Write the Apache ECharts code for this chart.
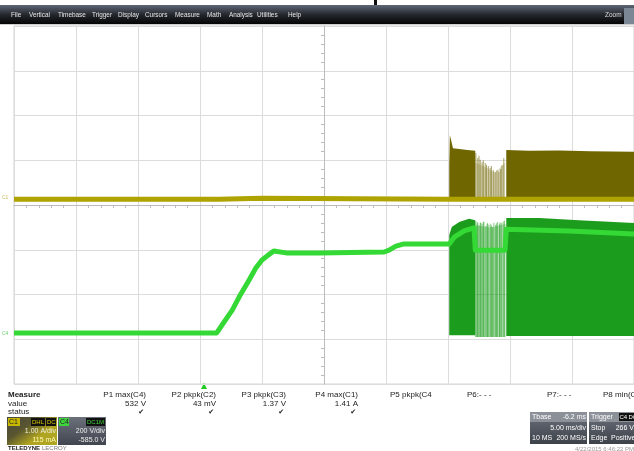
<!DOCTYPE html>
<html><head><meta charset="utf-8">
<script src="https://cdn.jsdelivr.net/npm/echarts@6/dist/echarts.min.js"></script>
<style>html,body{margin:0;padding:0;background:#fff}#scope{width:634px;height:451px}</style>
</head><body><div id="scope"></div><script>
/* Scope capture: C1 (current, olive) and C4 (voltage, green).
   Coordinates are screen divisions: x -5..5 (5 ms/div), y -4..4. */
const MENU = ["File","Vertical","Timebase","Trigger","Display","Cursors","Measure","Math","Analysis","Utilities","Help"];
const MENU_X = [11,29,58,92,118,145,175,207,229,257,288];

const MEAS_NAME = ["P1 max(C4)","P2 pkpk(C2)","P3 pkpk(C3)","P4 max(C1)","P5 pkpk(C4","P6:- - -","P7:- - -","P8 min(C4)"];
const MEAS_VALUE = ["532 V","43 mV","1.37 V","1.41 A","","","",""];
const MEAS_OK = [true,true,true,true,false,false,false,false];

// C1 trace (divisions)
const c1Base = [[-5,0.13],[-1.7,0.13],[-1.0,0.15],[0.5,0.14],[2.02,0.13],[5,0.13]];
const c1Burst1 = [[2.02,0.13,0.9],[2.03,0.13,1.56],[2.05,0.13,1.45],[2.08,0.13,1.27],[2.18,0.13,1.25],[2.31,0.13,1.23],[2.44,0.13,1.21]];
const c1Stripes = [[2.45,0.13,1.16],[2.48,0.13,1.05],[2.50,0.13,1.10],[2.52,0.13,1.01],[2.55,0.13,0.96],[2.57,0.13,1.00],[2.60,0.13,0.94],[2.62,0.13,0.90],[2.65,0.13,0.87],[2.68,0.13,0.83],[2.70,0.13,0.87],[2.73,0.13,0.78],[2.76,0.13,0.74],[2.79,0.13,0.78],[2.82,0.13,0.74],[2.85,0.13,0.80],[2.87,0.13,0.89],[2.90,0.13,1.05]];
const c1Haze = [[2.44,0.13,0.95],[2.60,0.13,0.85],[2.76,0.13,0.72],[2.92,0.13,0.95]];
const c1Burst2 = [[2.94,0.13,1.23],[3.3,0.13,1.21],[3.8,0.13,1.22],[4.3,0.13,1.20],[5,0.13,1.19]];

// C4 trace (divisions)
const c4Trace = [[-5,-2.86],[-1.73,-2.86],[-1.61,-2.61],[-1.48,-2.35],[-1.35,-2.01],[-1.21,-1.68],[-1.10,-1.41],[-1.00,-1.23],[-0.90,-1.12],[-0.81,-1.03],[-0.61,-1.07],[-0.08,-1.07],[0.97,-1.05],[1.05,-1.01],[1.16,-0.92],[1.29,-0.87],[2.02,-0.87],[2.10,-0.72],[2.26,-0.58],[2.42,-0.51],[2.44,-1.01],[2.92,-1.01],[2.94,-0.54],[3.95,-0.58],[5,-0.65]];
const c4Burst1 = [[2.02,-2.91,-0.67],[2.06,-2.91,-0.49],[2.18,-2.91,-0.38],[2.34,-2.91,-0.31],[2.44,-2.91,-0.34]];
const c4Stripes = [[2.45,-2.95,-0.36],[2.47,-2.95,-0.41],[2.48,-2.95,-0.38],[2.50,-2.95,-0.45],[2.52,-2.95,-0.39],[2.53,-2.95,-0.40],[2.55,-2.95,-0.42],[2.57,-2.95,-0.37],[2.58,-2.95,-0.38],[2.61,-2.95,-0.47],[2.63,-2.95,-0.42],[2.64,-2.95,-0.40],[2.66,-2.95,-0.44],[2.69,-2.95,-0.42],[2.70,-2.95,-0.46],[2.72,-2.95,-0.49],[2.74,-2.95,-0.40],[2.77,-2.95,-0.45],[2.78,-2.95,-0.41],[2.80,-2.95,-0.38],[2.83,-2.95,-0.43],[2.84,-2.95,-0.39],[2.86,-2.95,-0.40],[2.89,-2.95,-0.37],[2.91,-2.95,-0.35]];
const c4Haze = [[2.44,-2.95,-0.45],[2.70,-2.95,-0.50],[2.93,-2.95,-0.42]];
const c4Burst2 = [[2.94,-2.93,-0.29],[3.47,-2.93,-0.29],[4.11,-2.93,-0.34],[5,-2.93,-0.40]];

const OLIVE_LINE = "#aea300", OLIVE_FILL = "#6f6600";
const GREEN_LINE = "#35d935", GREEN_FILL = "#1c9c1c";

function band(pts, color) {
  return { type: "custom", data: [0], silent: true, z: 2,
    renderItem: (params, api) => {
      const top = pts.map((p) => api.coord([p[0], p[2]]));
      const bot = pts.slice().reverse().map((p) => api.coord([p[0], p[1]]));
      return { type: "polygon", shape: { points: top.concat(bot) }, style: { fill: color } };
    } };
}
function stripes(pts, color) {
  return { type: "custom", data: pts, silent: true, z: 2,
    renderItem: (params, api) => {
      const a = api.coord([api.value(0), api.value(1)]), b = api.coord([api.value(0), api.value(2)]);
      return { type: "line", shape: { x1: a[0], y1: a[1], x2: b[0], y2: b[1] }, style: { stroke: color, lineWidth: 1 } };
    } };
}

const F = "Liberation Sans, Arial, sans-serif";
const txt = (x, y, s, o) => Object.assign({ type: "text", x, y, silent: true,
  style: Object.assign({ text: s, fill: "#222", font: "8px " + F, textVerticalAlign: "middle" }, o || {}) });
const box = (x, y, w, h, fill) => ({ type: "rect", shape: { x, y, width: w, height: h }, style: { fill }, silent: true });
const grad = (c0, c1) => new echarts.graphic.LinearGradient(0, 0, 0, 1, [{ offset: 0, color: c0 }, { offset: 1, color: c1 }]);

const gfx = [
  box(0, 0, 634, 5, "#ffffff"),
  box(374, 0, 3, 5, "#111"),
  { type: "rect", shape: { x: 0, y: 5, width: 634, height: 19 }, silent: true,
    style: { fill: new echarts.graphic.LinearGradient(0, 0, 0, 1, [{ offset: 0, color: "#5f6676" }, { offset: 0.5, color: "#25282e" }, { offset: 1, color: "#040404" }]) } },
  box(0, 24, 634, 1, "#cfcfcf"),
  txt(605, 15, "Zoom", { fill: "#ddd", font: "6.5px " + F }),
  box(624, 8, 10, 16, "#7c8796"),
];
MENU.forEach((m, i) => gfx.push(txt(MENU_X[i], 15, m, { fill: "#e6e6e6", font: "6.4px " + F })));

// measure table
gfx.push(txt(8, 395, "Measure", { font: "bold 8px " + F }), txt(8, 404, "value"), txt(8, 412, "status"));
const MEAS_RIGHT = [146, 216, 286, 358];
const MEAS_LEFT = [390, 467, 547, 603];
MEAS_NAME.forEach((n, i) => {
  if (i < 4) {
    gfx.push(txt(MEAS_RIGHT[i], 395, n, { textAlign: "right" }));
    gfx.push(txt(MEAS_RIGHT[i], 404, MEAS_VALUE[i], { textAlign: "right" }));
    if (MEAS_OK[i]) gfx.push(txt(MEAS_RIGHT[i] - 2, 412, "\u2714", { textAlign: "right", font: "7px DejaVu Sans" }));
  } else gfx.push(txt(MEAS_LEFT[i - 4], 395, n));
});

// channel badges
gfx.push(
  { type: "rect", shape: { x: 7, y: 417, width: 50, height: 28 }, silent: true,
    style: { fill: new echarts.graphic.LinearGradient(0, 0, 0.4, 1, [{ offset: 0, color: "#45453c" }, { offset: 0.55, color: "#5a5630" }, { offset: 1, color: "#b0a520" }]) } },
  box(8, 418, 12, 8, "#c9b800"), txt(9, 422, "C1", { fill: "#222", font: "7px " + F }),
  box(31, 418, 14, 8, "#111"), txt(32, 422, "DHL", { fill: "#d8c800", font: "6px " + F }),
  box(46, 418, 10, 8, "#111"), txt(47, 422, "DC", { fill: "#d8c800", font: "6px " + F }),
  txt(56, 431, "1.00 A/div", { textAlign: "right", fill: "#eeeedd", font: "7px " + F }),
  txt(56, 440, "115 mA", { textAlign: "right", fill: "#fff8b8", font: "7px " + F }),
  box(58, 417, 48, 28, grad("#6c707a", "#41454f")),
  box(59, 418, 10, 8, "#3ed43e"), txt(60, 422, "C4", { fill: "#222", font: "7px " + F }),
  box(86, 418, 19, 8, "#111"), txt(87, 422, "DC1M", { fill: "#3ed43e", font: "6px " + F }),
  txt(105, 431, "200 V/div", { textAlign: "right", fill: "#eee", font: "7px " + F }),
  txt(105, 440, "-585.0 V", { textAlign: "right", fill: "#eee", font: "7px " + F }),
  txt(8, 448, "TELEDYNE", { font: "bold 6px " + F, fill: "#222" }),
  txt(42, 448, "LECROY", { font: "6px " + F, fill: "#777" })
);

// timebase / trigger boxes
gfx.push(
  box(530, 412, 57, 32, grad("#6e727c", "#3d414a")),
  box(530, 412, 57, 10, "#8c9099"),
  txt(532, 417, "Tbase", { fill: "#fff", font: "7px " + F }),
  txt(586, 417, "-6.2 ms", { fill: "#fff", font: "7px " + F, textAlign: "right" }),
  txt(586, 428, "5.00 ms/div", { fill: "#fff", font: "7px " + F, textAlign: "right" }),
  txt(532, 438, "10 MS", { fill: "#fff", font: "7px " + F }),
  txt(586, 438, "200 MS/s", { fill: "#fff", font: "7px " + F, textAlign: "right" }),
  box(589, 412, 45, 32, grad("#6e727c", "#3d414a")),
  box(589, 412, 45, 10, "#8c9099"),
  txt(591, 417, "Trigger", { fill: "#fff", font: "7px " + F }),
  box(619, 413, 9, 8, "#111"), txt(619.5, 417, "C4", { fill: "#fff", font: "6px " + F }),
  box(628, 413, 6, 8, "#111"), txt(628.5, 417, "DC", { fill: "#fff", font: "6px " + F }),
  txt(591, 428, "Stop", { fill: "#fff", font: "7px " + F }),
  txt(634, 428, "266 V", { fill: "#fff", font: "7px " + F, textAlign: "right" }),
  txt(591, 438, "Edge", { fill: "#fff", font: "7px " + F }),
  txt(611, 438, "Positive", { fill: "#fff", font: "7px " + F }),
  txt(634, 449, "4/22/2015 6:46:22 PM", { fill: "#999", font: "6px " + F, textAlign: "right" }),
  // trigger position marker and channel ground markers
  { type: "polygon", shape: { points: [[201, 389], [207, 389], [204, 383]] }, style: { fill: "#22cc22" }, silent: true },
  txt(2, 198, "C1", { fill: "#c8c060", font: "5px " + F }),
  txt(2, 334, "C4", { fill: "#70d070", font: "5px " + F })
);

const chart = echarts.init(document.getElementById("scope"));
chart.setOption({
  animation: false,
  backgroundColor: "#fff",
  grid: { left: 14, right: 0, top: 26, bottom: 67, show: true, borderColor: "#d4d4d4", borderWidth: 1 },
  xAxis: { type: "value", min: -5, max: 5, interval: 1,
    axisLabel: { show: false }, axisTick: { show: false },
    axisLine: { show: true, onZero: true, lineStyle: { color: "#bcbcbc" } },
    minorTick: { show: true, splitNumber: 5, length: 3, lineStyle: { color: "#bcbcbc" } },
    splitLine: { lineStyle: { color: "#dcdcdc" } } },
  yAxis: { type: "value", min: -4, max: 4, interval: 1,
    axisLabel: { show: false }, axisTick: { show: false },
    axisLine: { show: true, onZero: true, lineStyle: { color: "#bcbcbc" } },
    minorTick: { show: true, splitNumber: 5, length: 3, lineStyle: { color: "#bcbcbc" } },
    splitLine: { lineStyle: { color: "#dcdcdc" } } },
  graphic: gfx,
  series: [
    band(c1Burst1, OLIVE_FILL),
    band(c1Haze, "rgba(111,102,0,0.22)"),
    stripes(c1Stripes, "rgba(111,102,0,0.6)"),
    band(c1Burst2, OLIVE_FILL),
    { type: "line", data: c1Base, symbol: "none", z: 3, silent: true, lineStyle: { color: OLIVE_LINE, width: 5 } },
    band(c4Burst1, GREEN_FILL),
    band(c4Haze, "rgba(28,156,28,0.3)"),
    stripes(c4Stripes, "rgba(28,156,28,0.55)"),
    band(c4Burst2, GREEN_FILL),
    { type: "line", data: c4Trace, symbol: "none", z: 4, silent: true, lineStyle: { color: GREEN_LINE, width: 5, join: "round" } },
  ],
});
</script></body></html>
